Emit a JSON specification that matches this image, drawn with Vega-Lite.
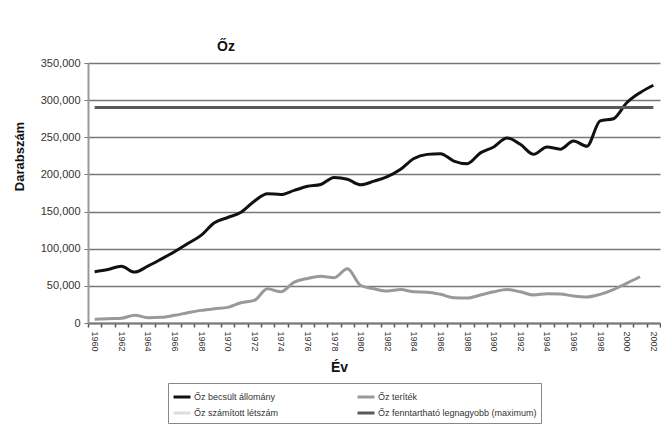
{
  "$schema": "https://vega.github.io/schema/vega-lite/v6.json",
  "width": 572,
  "height": 260,
  "autosize": {"type": "pad"},
  "padding": {"left": 13, "top": 40, "right": 0, "bottom": 10},
  "background": "white",
  "config": {
    "font": "Liberation Sans",
    "view": {"stroke": null},
    "axis": {"labelFont": "Liberation Sans", "titleFont": "Liberation Sans"}
  },
  "title": {
    "text": "Őz",
    "anchor": "start",
    "dx": 204,
    "offset": 3,
    "fontSize": 14,
    "fontWeight": "bold",
    "color": "#111"
  },
  "data": {
    "values": [
      {"year": 1960, "series": "Őz becsült állomány", "value": 69000},
      {"year": 1961, "series": "Őz becsült állomány", "value": 72000},
      {"year": 1962, "series": "Őz becsült állomány", "value": 76500},
      {"year": 1963, "series": "Őz becsült állomány", "value": 68500},
      {"year": 1964, "series": "Őz becsült állomány", "value": 76500},
      {"year": 1965, "series": "Őz becsült állomány", "value": 86000},
      {"year": 1966, "series": "Őz becsült állomány", "value": 96000},
      {"year": 1967, "series": "Őz becsült állomány", "value": 107000},
      {"year": 1968, "series": "Őz becsült állomány", "value": 118000},
      {"year": 1969, "series": "Őz becsült állomány", "value": 135000},
      {"year": 1970, "series": "Őz becsült állomány", "value": 142000},
      {"year": 1971, "series": "Őz becsült állomány", "value": 149000},
      {"year": 1972, "series": "Őz becsült állomány", "value": 164000},
      {"year": 1973, "series": "Őz becsült állomány", "value": 174000},
      {"year": 1974, "series": "Őz becsült állomány", "value": 173000},
      {"year": 1975, "series": "Őz becsült állomány", "value": 178500},
      {"year": 1976, "series": "Őz becsült állomány", "value": 184000},
      {"year": 1977, "series": "Őz becsült állomány", "value": 186500},
      {"year": 1978, "series": "Őz becsült állomány", "value": 196000},
      {"year": 1979, "series": "Őz becsült állomány", "value": 193500},
      {"year": 1980, "series": "Őz becsült állomány", "value": 186000},
      {"year": 1981, "series": "Őz becsült állomány", "value": 191000},
      {"year": 1982, "series": "Őz becsült állomány", "value": 197000},
      {"year": 1983, "series": "Őz becsült állomány", "value": 207000},
      {"year": 1984, "series": "Őz becsült állomány", "value": 221500},
      {"year": 1985, "series": "Őz becsült állomány", "value": 227000},
      {"year": 1986, "series": "Őz becsült állomány", "value": 228000},
      {"year": 1987, "series": "Őz becsült állomány", "value": 218000},
      {"year": 1988, "series": "Őz becsült állomány", "value": 214500},
      {"year": 1989, "series": "Őz becsült állomány", "value": 229000},
      {"year": 1990, "series": "Őz becsült állomány", "value": 237000},
      {"year": 1991, "series": "Őz becsült állomány", "value": 249000},
      {"year": 1992, "series": "Őz becsült állomány", "value": 240500},
      {"year": 1993, "series": "Őz becsült állomány", "value": 227000},
      {"year": 1994, "series": "Őz becsült állomány", "value": 237000},
      {"year": 1995, "series": "Őz becsült állomány", "value": 234000},
      {"year": 1996, "series": "Őz becsült állomány", "value": 245000},
      {"year": 1997, "series": "Őz becsült állomány", "value": 238000},
      {"year": 1998, "series": "Őz becsült állomány", "value": 272000},
      {"year": 1999, "series": "Őz becsült állomány", "value": 275000},
      {"year": 2000, "series": "Őz becsült állomány", "value": 296500},
      {"year": 2001, "series": "Őz becsült állomány", "value": 310000},
      {"year": 2002, "series": "Őz becsült állomány", "value": 320000},
      {"year": 1960, "series": "Őz teríték", "value": 5000},
      {"year": 1961, "series": "Őz teríték", "value": 5800},
      {"year": 1962, "series": "Őz teríték", "value": 6300},
      {"year": 1963, "series": "Őz teríték", "value": 10500},
      {"year": 1964, "series": "Őz teríték", "value": 7200},
      {"year": 1965, "series": "Őz teríték", "value": 7600},
      {"year": 1966, "series": "Őz teríték", "value": 10300},
      {"year": 1967, "series": "Őz teríték", "value": 13800},
      {"year": 1968, "series": "Őz teríték", "value": 17000},
      {"year": 1969, "series": "Őz teríték", "value": 19200},
      {"year": 1970, "series": "Őz teríték", "value": 21000},
      {"year": 1971, "series": "Őz teríték", "value": 27300},
      {"year": 1972, "series": "Őz teríték", "value": 30500},
      {"year": 1973, "series": "Őz teríték", "value": 46000},
      {"year": 1974, "series": "Őz teríték", "value": 42000},
      {"year": 1975, "series": "Őz teríték", "value": 55000},
      {"year": 1976, "series": "Őz teríték", "value": 60000},
      {"year": 1977, "series": "Őz teríték", "value": 63000},
      {"year": 1978, "series": "Őz teríték", "value": 61000},
      {"year": 1979, "series": "Őz teríték", "value": 73000},
      {"year": 1980, "series": "Őz teríték", "value": 50500},
      {"year": 1981, "series": "Őz teríték", "value": 46000},
      {"year": 1982, "series": "Őz teríték", "value": 43000},
      {"year": 1983, "series": "Őz teríték", "value": 45000},
      {"year": 1984, "series": "Őz teríték", "value": 42000},
      {"year": 1985, "series": "Őz teríték", "value": 41500},
      {"year": 1986, "series": "Őz teríték", "value": 38600},
      {"year": 1987, "series": "Őz teríték", "value": 34000},
      {"year": 1988, "series": "Őz teríték", "value": 33600},
      {"year": 1989, "series": "Őz teríték", "value": 37700},
      {"year": 1990, "series": "Őz teríték", "value": 42000},
      {"year": 1991, "series": "Őz teríték", "value": 45000},
      {"year": 1992, "series": "Őz teríték", "value": 42000},
      {"year": 1993, "series": "Őz teríték", "value": 37700},
      {"year": 1994, "series": "Őz teríték", "value": 39500},
      {"year": 1995, "series": "Őz teríték", "value": 39000},
      {"year": 1996, "series": "Őz teríték", "value": 36300},
      {"year": 1997, "series": "Őz teríték", "value": 35000},
      {"year": 1998, "series": "Őz teríték", "value": 38600},
      {"year": 1999, "series": "Őz teríték", "value": 45000},
      {"year": 2000, "series": "Őz teríték", "value": 53400},
      {"year": 2001, "series": "Őz teríték", "value": 62300},
      {"year": 1960, "series": "Őz fenntartható legnagyobb (maximum)", "value": 290000},
      {"year": 2002, "series": "Őz fenntartható legnagyobb (maximum)", "value": 290000}
    ]
  },
  "mark": {"type": "line", "strokeWidth": 3, "interpolate": "monotone"},
  "encoding": {
    "x": {
      "field": "year",
      "type": "ordinal",
      "title": "Év",
      "scale": {"type": "band", "paddingInner": 0, "paddingOuter": 0},
      "axis": {
        "labelExpr": "datum.value % 2 == 0 ? datum.label : ''",
        "labelAngle": 90,
        "labelFontSize": 9,
        "labelColor": "#333",
        "labelPadding": 4,
        "tickBand": "extent",
        "tickSize": 4,
        "tickColor": "#555",
        "tickWidth": 1.5,
        "domainColor": "#777",
        "domainWidth": 2,
        "grid": false,
        "titleFontSize": 14,
        "titleFontWeight": "bold",
        "titleColor": "#111",
        "titleX": 251,
        "titleY": 44,
        "titleAlign": "center",
        "titleBaseline": "middle"
      }
    },
    "y": {
      "field": "value",
      "type": "quantitative",
      "title": "Darabszám",
      "scale": {"domain": [0, 350000], "nice": false},
      "axis": {
        "tickCount": 7,
        "format": ",.0f",
        "grid": true,
        "gridColor": "#777777",
        "gridWidth": 1.5,
        "gridOpacity": 1,
        "labelFontSize": 11,
        "labelColor": "#333",
        "labelPadding": 4,
        "tickSize": 4,
        "tickColor": "#777",
        "domainColor": "#999",
        "domainWidth": 2,
        "titleFontSize": 13,
        "titleFontWeight": "bold",
        "titleColor": "#111",
        "titleAngle": -90,
        "titleX": -69,
        "titleY": 93,
        "titleAlign": "center",
        "titleBaseline": "middle"
      }
    },
    "color": {
      "field": "series",
      "type": "nominal",
      "scale": {
        "domain": ["Őz becsült állomány", "Őz számított létszám", "Őz teríték", "Őz fenntartható legnagyobb (maximum)"],
        "range": ["#111111", "#dddddd", "#999999", "#5a5a5a"]
      },
      "legend": {
        "title": null,
        "orient": "none",
        "legendX": 80,
        "legendY": 320,
        "columns": 2,
        "columnPadding": 72,
        "rowPadding": 0,
        "symbolType": "stroke",
        "symbolStrokeWidth": 3,
        "symbolSize": 289,
        "labelOffset": 2,
        "labelFontSize": 9,
        "labelLimit": 300,
        "labelColor": "#333",
        "strokeColor": "#888",
        "padding": 4
      }
    }
  }
}
